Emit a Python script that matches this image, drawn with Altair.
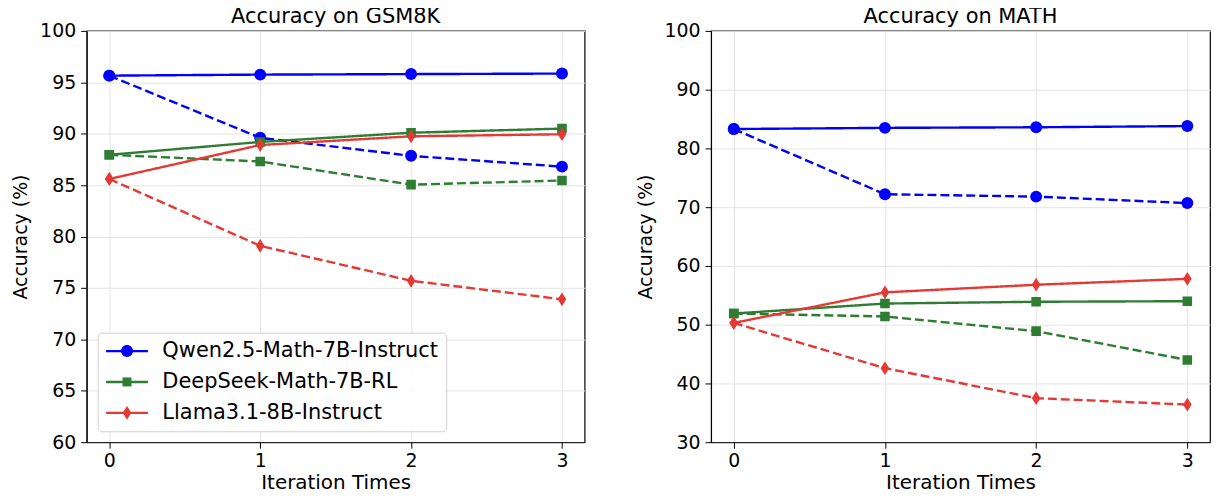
import altair as alt
import pandas as pd

iterations = [0, 1, 2, 3]
models = ["Qwen2.5-Math-7B-Instruct", "DeepSeek-Math-7B-RL", "Llama3.1-8B-Instruct"]
colors = ["#0000ff", "#2e7d32", "#e53935"]

# GSM8K
gsm_qwen_solid = [95.65, 95.75, 95.8, 95.85]
gsm_qwen_dashed = [95.65, 89.6, 87.85, 86.8]
gsm_ds_solid = [87.95, 89.2, 90.1, 90.5]
gsm_ds_dashed = [87.95, 87.3, 85.05, 85.45]
gsm_llama_solid = [85.6, 88.9, 89.75, 89.95]
gsm_llama_dashed = [85.6, 79.1, 75.7, 73.9]

# MATH
math_qwen_solid = [83.3, 83.5, 83.6, 83.8]
math_qwen_dashed = [83.3, 72.2, 71.8, 70.7]
math_ds_solid = [51.9, 53.6, 53.9, 54.0]
math_ds_dashed = [51.9, 51.4, 48.9, 44.0]
math_llama_solid = [50.3, 55.5, 56.8, 57.8]
math_llama_dashed = [50.3, 42.6, 37.5, 36.4]

FONT = "DejaVu Sans"


def build_df(series):
    rows = []
    for model, variant, vals in series:
        for it, v in zip(iterations, vals):
            rows.append({"model": model, "variant": variant, "iter": it, "acc": v})
    return pd.DataFrame(rows)


gsm_df = build_df([
    (models[0], "solid", gsm_qwen_solid), (models[0], "dashed", gsm_qwen_dashed),
    (models[1], "solid", gsm_ds_solid), (models[1], "dashed", gsm_ds_dashed),
    (models[2], "solid", gsm_llama_solid), (models[2], "dashed", gsm_llama_dashed),
])
math_df = build_df([
    (models[0], "solid", math_qwen_solid), (models[0], "dashed", math_qwen_dashed),
    (models[1], "solid", math_ds_solid), (models[1], "dashed", math_ds_dashed),
    (models[2], "solid", math_llama_solid), (models[2], "dashed", math_llama_dashed),
])

marker_paths = [
    "circle",
    "M-0.8,-0.8H0.8V0.8H-0.8Z",
    "M0,-1.15L0.72,0L0,1.15L-0.72,0Z",
]
legend_line_path = "M-2.1,-0.12H2.1V0.12H-2.1Z"
legend_marker_paths = [
    "M0.6,0A0.6,0.6,0,1,1,-0.6,0A0.6,0.6,0,1,1,0.6,0Z",
    "M-0.45,-0.45H0.45V0.45H-0.45Z",
    "M0,-0.69L0.43,0L0,0.69L-0.43,0Z",
]

LEG_X, LEG_Y, ROW = 11, 303, 31
leg_common = dict(
    title=None, orient="none", legendX=LEG_X, padding=8,
    labelFontSize=21, labelFont=FONT, labelColor="#000", labelLimit=0,
    symbolSize=400, symbolStrokeWidth=0, symbolOffset=11, labelOffset=25, rowPadding=9,
)


def panel(df, title, ydomain, yticks, with_legend, width):
    x = alt.X("iter:Q", title="Iteration Times",
              scale=alt.Scale(domain=[-0.15, 3.15], nice=False, zero=False),
              axis=alt.Axis(values=iterations, format="d", grid=True))
    y = alt.Y("acc:Q", title="Accuracy (%)",
              scale=alt.Scale(domain=ydomain, nice=False, zero=False),
              axis=alt.Axis(values=yticks, grid=True))
    color_scale = alt.Scale(domain=models, range=colors)
    lines = alt.Chart(df).mark_line(strokeWidth=2.4, clip=True).encode(
        x=x, y=y,
        color=alt.Color("model:N", scale=color_scale, legend=None),
        strokeDash=alt.StrokeDash("variant:N",
                                  scale=alt.Scale(domain=["solid", "dashed"], range=[[1, 0], [9, 4]]),
                                  legend=None),
        detail="variant:N",
    )
    points = alt.Chart(df).mark_point(filled=True, opacity=1, size=144, clip=True).encode(
        x=x, y=y,
        color=alt.Color("model:N", scale=color_scale, legend=None),
        shape=alt.Shape("model:N", scale=alt.Scale(domain=models, range=marker_paths), legend=None),
    )
    layers = [lines, points]
    if with_legend:
        legdf = pd.DataFrame({"model": models, "iter": [-5] * 3, "acc": [-50] * 3})
        base_leg = alt.Legend(
            legendY=LEG_Y, symbolType=legend_line_path,
            fillColor="rgba(255,255,255,0.85)", strokeColor="#d0d0d0", cornerRadius=4,
            zindex=0, **leg_common,
        )
        base = alt.Chart(legdf).mark_point(filled=True, opacity=1, clip=True).encode(
            x=alt.X("iter:Q"), y=alt.Y("acc:Q"),
            color=alt.Color("model:N", scale=alt.Scale(domain=models, range=colors), legend=base_leg),
        )
        layers.append(base)
        for i, m in enumerate(models):
            ov_leg = alt.Legend(
                legendY=LEG_Y + i * ROW, symbolType=legend_marker_paths[i],
                labelOpacity=0, zindex=1, **leg_common,
            )
            ov = alt.Chart(legdf[legdf["model"] == m]).mark_point(filled=True, opacity=1, clip=True).encode(
                x=alt.X("iter:Q"), y=alt.Y("acc:Q"),
                color=alt.Color("model:N", scale=alt.Scale(domain=[m], range=[colors[i]]), legend=ov_leg),
            )
            layers.append(ov)
    ch = alt.layer(*layers).properties(
        width=width, height=413,
        title=alt.Title(title, fontSize=21, font=FONT, fontWeight="normal", color="#000", offset=-5),
    )
    if with_legend:
        ch = ch.resolve_scale(color="independent")
    return ch


left = panel(gsm_df, "Accuracy on GSM8K", [60, 100], [60, 65, 70, 75, 80, 85, 90, 95, 100], True, 500)
right = panel(math_df, "Accuracy on MATH", [30, 100], [30, 40, 50, 60, 70, 80, 90, 100], False, 501)

chart = alt.hconcat(left, right, spacing=50).properties(
    padding={"left": 3, "top": -4, "right": 0, "bottom": -2},
).configure_view(
    stroke="#000", strokeWidth=1.2,
).configure_axis(
    labelFont=FONT, titleFont=FONT, labelFontSize=19, titleFontSize=19,
    labelColor="#000", titleColor="#000", titleFontWeight="normal",
    tickColor="#000", domainColor="#000", tickSize=6, labelPadding=5,
    gridColor="#e4e4e4", gridWidth=1,
).configure_axisY(titlePadding=9).configure_axisX(titlePadding=2, labelPadding=3, titleFontSize=20)

chart.save("out.html", embed_options={"renderer": "svg", "actions": False})
